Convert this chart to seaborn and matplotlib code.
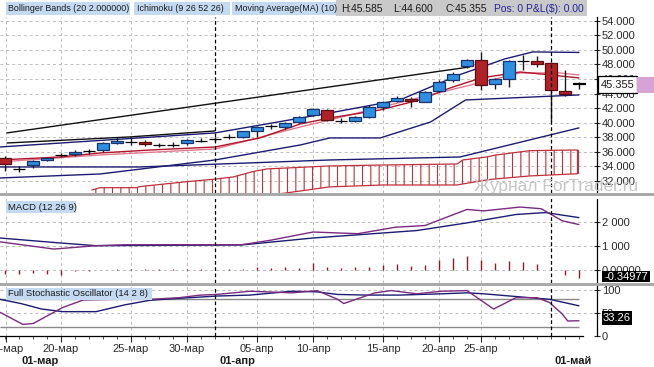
import numpy as np
import pandas as pd
import matplotlib
matplotlib.use("Agg")
import matplotlib.pyplot as plt
import matplotlib.transforms as mtransforms
import seaborn as sns
from matplotlib.patches import Rectangle

sns.set_theme(style="white")
plt.rcParams['font.family'] = ['Liberation Sans', 'DejaVu Sans']
plt.rcParams['hatch.linewidth'] = 0.8
plt.rcParams['hatch.color'] = '#c0303a'

# ---------------- data ----------------
opens  = [35.10, 33.60, 34.20, 34.95, 35.60, 35.70, 36.10, 36.25, 37.20, 37.40,
          37.40, 36.95, 37.00, 37.20, 37.55, 37.80, 38.10, 38.10, 38.80, 39.50,
          39.40, 40.05, 41.07, 41.75, 40.30, 40.30, 40.85, 42.20, 43.00, 43.30,
          42.90, 44.40, 45.80, 47.80, 48.60, 45.30, 46.00, 48.45, 48.40, 48.15,
          44.40, 45.40]
highs  = [35.40, 34.00, 34.90, 35.30, 35.90, 36.20, 36.40, 37.40, 38.00, 38.00,
          37.60, 37.20, 37.30, 37.80, 37.90, 38.10, 38.40, 38.90, 39.50, 39.80,
          40.10, 40.95, 42.00, 41.90, 40.60, 40.90, 42.40, 43.00, 43.60, 43.50,
          44.40, 45.80, 46.90, 48.70, 49.75, 46.20, 48.60, 49.30, 49.10, 48.30,
          47.20, 45.585]
lows   = [33.40, 33.30, 33.75, 34.80, 35.30, 35.50, 35.70, 36.00, 37.10, 37.00,
          36.80, 36.70, 36.70, 37.00, 37.30, 37.50, 37.80, 37.90, 38.10, 39.20,
          39.10, 39.90, 40.90, 40.20, 40.00, 40.10, 40.70, 41.75, 42.80, 42.20,
          42.80, 44.20, 45.60, 47.50, 44.50, 44.60, 44.90, 47.20, 47.70, 40.20,
          43.60, 44.60]
closes = [34.35, 33.60, 34.75, 35.10, 35.60, 36.00, 36.10, 37.20, 37.55, 37.40,
          37.10, 36.95, 37.00, 37.60, 37.55, 37.80, 38.10, 38.80, 39.40, 39.50,
          40.00, 40.85, 41.85, 40.40, 40.30, 40.75, 42.20, 42.90, 43.40, 43.00,
          44.25, 45.60, 46.70, 48.60, 45.20, 45.95, 48.47, 48.45, 48.06, 44.50,
          43.95, 45.355]
bars = list(range(len(closes)))

# indicator lines (bar index, value)
trend_x, trend_y = [0.14, 33.2], [38.6, 47.65]
kijun_x, kijun_y = [0.14, 8.9, 15.0], [37.22, 38.05, 38.87]
ma_x = [-0.36, 3.9, 6.8, 10.4, 15.0, 18.2, 21.1, 23.2, 26.8, 29.6, 31.8, 34.0, 36.8, 39.0, 41.0]
ma_y = [34.89, 35.30, 35.85, 36.26, 36.67, 37.91, 39.83, 40.65, 41.75, 43.12, 44.77, 46.14, 46.96, 46.55, 46.14]
tenkan_x = [-0.36, 6.8, 15.0, 21.1, 23.2, 31.8, 36.8, 39.6, 41.0]
tenkan_y = [34.62, 35.58, 36.40, 39.42, 40.38, 44.49, 46.83, 46.83, 46.55]
bbl_x = [-0.36, 6.8, 15.0, 21.1, 23.2, 26.8, 30.4, 32.9, 41.0]
bbl_y = [32.42, 32.97, 34.89, 36.95, 37.91, 37.91, 40.10, 43.12, 43.81]
bbu_x = [-0.36, 15.0, 23.2, 28.2, 32.5, 35.7, 37.7, 41.0]
bbu_y = [36.67, 38.60, 41.34, 43.12, 46.60, 48.75, 49.71, 49.64]
span_x = [-0.36, 9.6, 23.2, 32.5, 41.0]
span_y = [33.93, 33.93, 34.89, 35.30, 39.29]
cloud_x   = [6.2, 6.8, 9.4, 9.6, 13.0, 14.9, 16.3, 17.7, 18.7, 23.2, 27.0, 32.3, 32.7, 34.4, 35.1, 37.5, 40.9]
cloud_top = [30.77, 31.09, 31.09, 31.23, 31.92, 32.24, 32.56, 33.29, 33.66, 34.07, 34.20, 34.34, 34.89, 35.30, 35.58, 36.17, 36.26]
cloud_bot = [30.00, 30.00, 30.00, 30.00, 30.00, 30.00, 30.00, 30.00, 30.00, 31.20, 31.46, 31.46, 31.60, 32.15, 32.30, 32.70, 33.00]

macd_x = [-0.36, 3.5, 6.5, 8.6, 16.9, 19.0, 22.0, 25.2, 27.9, 30.0, 33.0, 34.2, 36.8, 38.3, 39.8, 41.0]
macd_y = [1.16, 0.86, 1.00, 1.04, 1.04, 1.23, 1.57, 1.50, 1.77, 1.84, 2.51, 2.45, 2.61, 2.54, 2.04, 1.88]
sig_x = [-0.36, 3.8, 6.5, 16.9, 22.0, 29.4, 33.0, 36.5, 38.6, 41.0]
sig_y = [1.32, 1.12, 1.00, 1.03, 1.32, 1.63, 1.95, 2.30, 2.38, 2.17]
hist = [-0.17, -0.17, -0.13, -0.16, -0.22, -0.06, -0.04, -0.02, 0.01, 0.01,
        0.01, 0.01, 0.01, 0.01, 0.01, 0.00, 0.02, 0.03, 0.10, 0.08,
        0.12, 0.06, 0.28, 0.12, 0.08, 0.10, 0.12, 0.20, 0.25, 0.15,
        0.20, 0.40, 0.48, 0.56, 0.42, 0.28, 0.35, 0.32, 0.22, 0.00,
        -0.20, -0.35]

k_x = [-0.36, 1.28, 2.02, 4.11, 5.6, 7.98, 10.36, 12.44, 13.93, 15.12, 17.5, 18.7, 20.5, 22.3,
       23.75, 24.2, 26.43, 27.6, 29.4, 31.2, 33.0, 33.9, 34.9, 36.5, 38.0, 38.9, 39.8, 40.2, 41.0]
k_y = [51.8, 25.2, 27.3, 62.0, 78.6, 80.0, 80.0, 83.5, 89.1, 90.6, 97.6, 96.2, 94.1, 99.0,
       80.0, 70.8, 94.1, 99.0, 92.0, 97.6, 99.0, 80.0, 58.8, 83.5, 83.5, 73.0, 48.3, 32.7, 33.26]
d_x = [-0.36, 1.13, 2.62, 4.11, 6.5, 8.57, 10.36, 12.44, 15.12, 17.5, 20.5, 22.3, 23.75, 25.83,
       28.2, 31.2, 33.0, 34.2, 36.9, 38.9, 41.0]
d_y = [80.0, 70.8, 58.8, 53.1, 53.1, 68.0, 77.9, 82.1, 87.1, 89.2, 97.6, 96.2, 90.6, 89.2,
       89.2, 92.0, 94.1, 92.0, 85.0, 80.0, 65.9]

date_pos = [0.05, 4, 9, 13, 18, 22, 27, 31, 34]
date_lab = ['15-мар', '20-мар', '25-мар', '30-мар', '05-апр', '10-апр', '15-апр', '20-апр', '25-апр']
month_pos = [2.5, 16.6, 40.6]
month_lab = ['01-мар', '01-апр', '01-май']
month_sep = [15, 39]

main_ticks = [32, 34, 36, 38, 40, 42, 44, 46, 48, 50, 52, 54]
macd_ticks, macd_lab = [0, 1, 2], ['0.00000', '1 000', '2 000']
sto_ticks = [0, 50, 100]

# ---------------- figure ----------------
W, H = 654, 367
fig = plt.figure(figsize=(W / 100, H / 100), dpi=100)
fig.patch.set_facecolor('white')

def px_axes(top, bottom):
    return fig.add_axes([0, 1 - bottom / H, 597 / W, (bottom - top) / H])

def fr(x, y):
    return x / W, 1 - y / H

ax_m = px_axes(17, 193)
ax_d = px_axes(196, 283)
ax_s = px_axes(286, 336)
XL = (-0.357, 42.29)
GRID = dict(color='#bdbdbd', linestyle=(0, (3, 3)), linewidth=0.7)
NAVY, PURPLE, RED, PINK = '#1c1c72', '#7b2a80', '#b3142a', '#e07a8e'

for ax in (ax_m, ax_d, ax_s):
    ax.set_facecolor('white')
    ax.set_xlim(*XL)
    for s in ('left', 'top', 'bottom'):
        ax.spines[s].set_visible(False)
    ax.spines['right'].set_color('black')
    ax.spines['right'].set_linewidth(0.9)
    ax.yaxis.tick_right()
    ax.tick_params(axis='y', direction='inout', length=5, width=0.8, labelsize=8,
                   pad=1, colors='#2a2a2a', right=True, left=False)
    ax.set_xticks(date_pos)
    ax.xaxis.grid(True, **GRID)
    ax.yaxis.grid(True, **GRID)
    ax.set_axisbelow(True)
    for m in month_sep:
        ax.axvline(m, color='black', linestyle=(0, (3, 2)), linewidth=0.9, zorder=6)
    ax.set_xlabel('')
    ax.set_ylabel('')

# ---- main panel ----
ax_m.set_ylim(30.36, 54.5)
ax_m.set_yticks(main_ticks)
ax_m.set_yticklabels([f'{v:.3f}' for v in main_ticks])
ax_m.tick_params(axis='x', length=0, labelbottom=False)

ax_m.fill_between(cloud_x, cloud_bot, cloud_top, facecolor='none', hatch='||',
                  edgecolor='#c0303a', linewidth=0, zorder=2)
sns.lineplot(x=cloud_x, y=cloud_top, ax=ax_m, color='#c0303a', linewidth=0.9, estimator=None, sort=False, zorder=3)
sns.lineplot(x=cloud_x, y=cloud_bot, ax=ax_m, color='#c0303a', linewidth=0.9, estimator=None, sort=False, zorder=3)
ax_m.vlines(cloud_x[-1], cloud_bot[-1], cloud_top[-1], color='#c0303a', linewidth=1.6, zorder=3)

sns.lineplot(x=span_x, y=span_y, ax=ax_m, color=NAVY, linewidth=1, estimator=None, sort=False, zorder=3)
sns.lineplot(x=bbl_x, y=bbl_y, ax=ax_m, color=NAVY, linewidth=1, estimator=None, sort=False, zorder=3)
sns.lineplot(x=bbu_x, y=bbu_y, ax=ax_m, color=NAVY, linewidth=1, estimator=None, sort=False, zorder=3)
sns.lineplot(x=kijun_x, y=kijun_y, ax=ax_m, color='#111111', linewidth=1, estimator=None, sort=False, zorder=3)
sns.lineplot(x=trend_x, y=trend_y, ax=ax_m, color='#111111', linewidth=1, estimator=None, sort=False, zorder=3)
sns.lineplot(x=tenkan_x, y=tenkan_y, ax=ax_m, color=PINK, linewidth=1, estimator=None, sort=False, zorder=3)
sns.lineplot(x=ma_x, y=ma_y, ax=ax_m, color=RED, linewidth=1, estimator=None, sort=False, zorder=3)

o, c = np.array(opens), np.array(closes)
ax_m.vlines(bars, lows, highs, color='#1a1a1a', linewidth=1, zorder=4)
body_col = ['#2e8ee0' if cc > oo + 0.05 else ('#b02228' if cc < oo - 0.05 else 'black') for oo, cc in zip(o, c)]
edge_col = ['#17346e' if cc > oo + 0.05 else ('#5a0c10' if cc < oo - 0.05 else 'black') for oo, cc in zip(o, c)]
ax_m.bar(bars, c - o, bottom=o, width=0.8, color=body_col, edgecolor=edge_col, linewidth=0.9, zorder=5)

# watermark (figure level, cut by the panel separator)
fig.text(*fr(474, 186), 'Журнал ForTrader.ru', fontsize=12.5, color='#c6c6c6',
         va='center', ha='left', zorder=5)

# ---- MACD panel ----
ax_d.set_ylim(-0.554, 3.07)
ax_d.set_yticks(macd_ticks)
ax_d.set_yticklabels(macd_lab)
ax_d.tick_params(axis='x', length=0, labelbottom=False)
ax_d.vlines(bars, 0, hist, color='#8e1c24', linewidth=1, zorder=3)
sns.lineplot(x=sig_x, y=sig_y, ax=ax_d, color=NAVY, linewidth=1, estimator=None, sort=False, zorder=4)
sns.lineplot(x=macd_x, y=macd_y, ax=ax_d, color=PURPLE, linewidth=1, estimator=None, sort=False, zorder=4)

# ---- Stochastic panel ----
ax_s.set_ylim(0, 109)
ax_s.set_yticks(sto_ticks)
ax_s.hlines([20, 80], XL[0], 41.0, color='#8a8a8a', linewidth=1, zorder=2)
sns.lineplot(x=d_x, y=d_y, ax=ax_s, color=NAVY, linewidth=1, estimator=None, sort=False, zorder=4)
sns.lineplot(x=k_x, y=k_y, ax=ax_s, color=PURPLE, linewidth=1, estimator=None, sort=False, zorder=4)
ax_s.spines['bottom'].set_visible(True)
ax_s.spines['bottom'].set_color('black')
ax_s.spines['bottom'].set_linewidth(0.9)
ax_s.spines['bottom'].set_bounds(XL[0], 41.3)
ax_s.set_xticklabels(date_lab)
ax_s.set_xticks(bars, minor=True)
ax_s.tick_params(axis='x', which='major', direction='out', length=4, width=0.8,
                 labelsize=8, pad=2, colors='#2a2a2a', bottom=True)
ax_s.tick_params(axis='x', which='minor', direction='out', length=2, width=0.7,
                 colors='#555555', bottom=True)
ax_s.xaxis.grid(True, which='major', **GRID)
mtrans = mtransforms.blended_transform_factory(ax_s.transData, fig.transFigure)
for p, lab in zip(month_pos, month_lab):
    ax_s.text(p, 1 - 361 / H, lab, transform=mtrans, ha='center', va='center',
              fontsize=8, fontweight='bold', color='#1a1a1a', clip_on=False)

# ---------------- overlays (header, separators, value boxes) ----------------
def rect(x0, y0, x1, y1, fc, ec='none', lw=0, z=10):
    fig.patches.append(Rectangle(fr(x0, y1), (x1 - x0) / W, (y1 - y0) / H, transform=fig.transFigure,
                                 facecolor=fc, edgecolor=ec, linewidth=lw, zorder=z, figure=fig))

rect(0, 193, W, 196, '#a9a9a9')
rect(0, 283, W, 286, '#a9a9a9')
rect(0, 196, W, 199, 'white', z=9)

LB = '#c4d9f2'
rect(6, 2, 130, 15, LB)
rect(134, 2, 230, 15, LB)
rect(232, 2, 340, 15, LB)
rect(336, 0, 587, 16, '#c9c9c9')
hdr = dict(fontsize=6.4, va='center', ha='left', zorder=12)
fig.text(*fr(8, 8.5), 'Bollinger Bands (20 2.000000)', color='#1a1a1a', **hdr)
fig.text(*fr(137, 8.5), 'Ichimoku (9 26 52 26)', color='#1a1a1a', **hdr)
fig.text(*fr(235, 8.5), 'Moving Average(MA) (10)', color='#1a1a1a', **hdr)
hdr2 = dict(fontsize=7.4, va='center', ha='left', zorder=12)
fig.text(*fr(341, 8.5), 'H:45.585', color='#1a1a1a', **hdr2)
fig.text(*fr(393, 8.5), 'L:44.600', color='#1a1a1a', **hdr2)
fig.text(*fr(445, 8.5), 'C:45.355', color='#1a1a1a', **hdr2)
fig.text(*fr(494, 8.5), 'Pos: 0 P&L($): 0.00', color='#23239a', **hdr2)

hdr3 = dict(fontsize=6.8, va='center', ha='left', zorder=12)
rect(6, 201, 76, 213, LB)
fig.text(*fr(8, 207), 'MACD (12 26 9)', color='#1a1a1a', **hdr3)
rect(6, 288, 152, 300, LB)
fig.text(*fr(8, 294), 'Full Stochastic Oscillator (14 2 8)', color='#1a1a1a', **hdr3)

rect(598, 76, 637, 93, 'white', ec='black', lw=0.9, z=11)
rect(637, 77, W, 93, '#d7a2d6', z=11)
fig.text(*fr(617.5, 84.5), '45.355', fontsize=8, ha='center', va='center', color='#1a1a1a', zorder=12)
rect(602, 271, 650, 282, 'black', z=11)
fig.text(*fr(626, 276.5), '-0.34977', fontsize=8, ha='center', va='center', color='white', zorder=12)
rect(602, 311, 632, 325, 'black', z=11)
fig.text(*fr(617, 318), '33.26', fontsize=8, ha='center', va='center', color='white', zorder=12)

fig.savefig('out.png', dpi=100)
